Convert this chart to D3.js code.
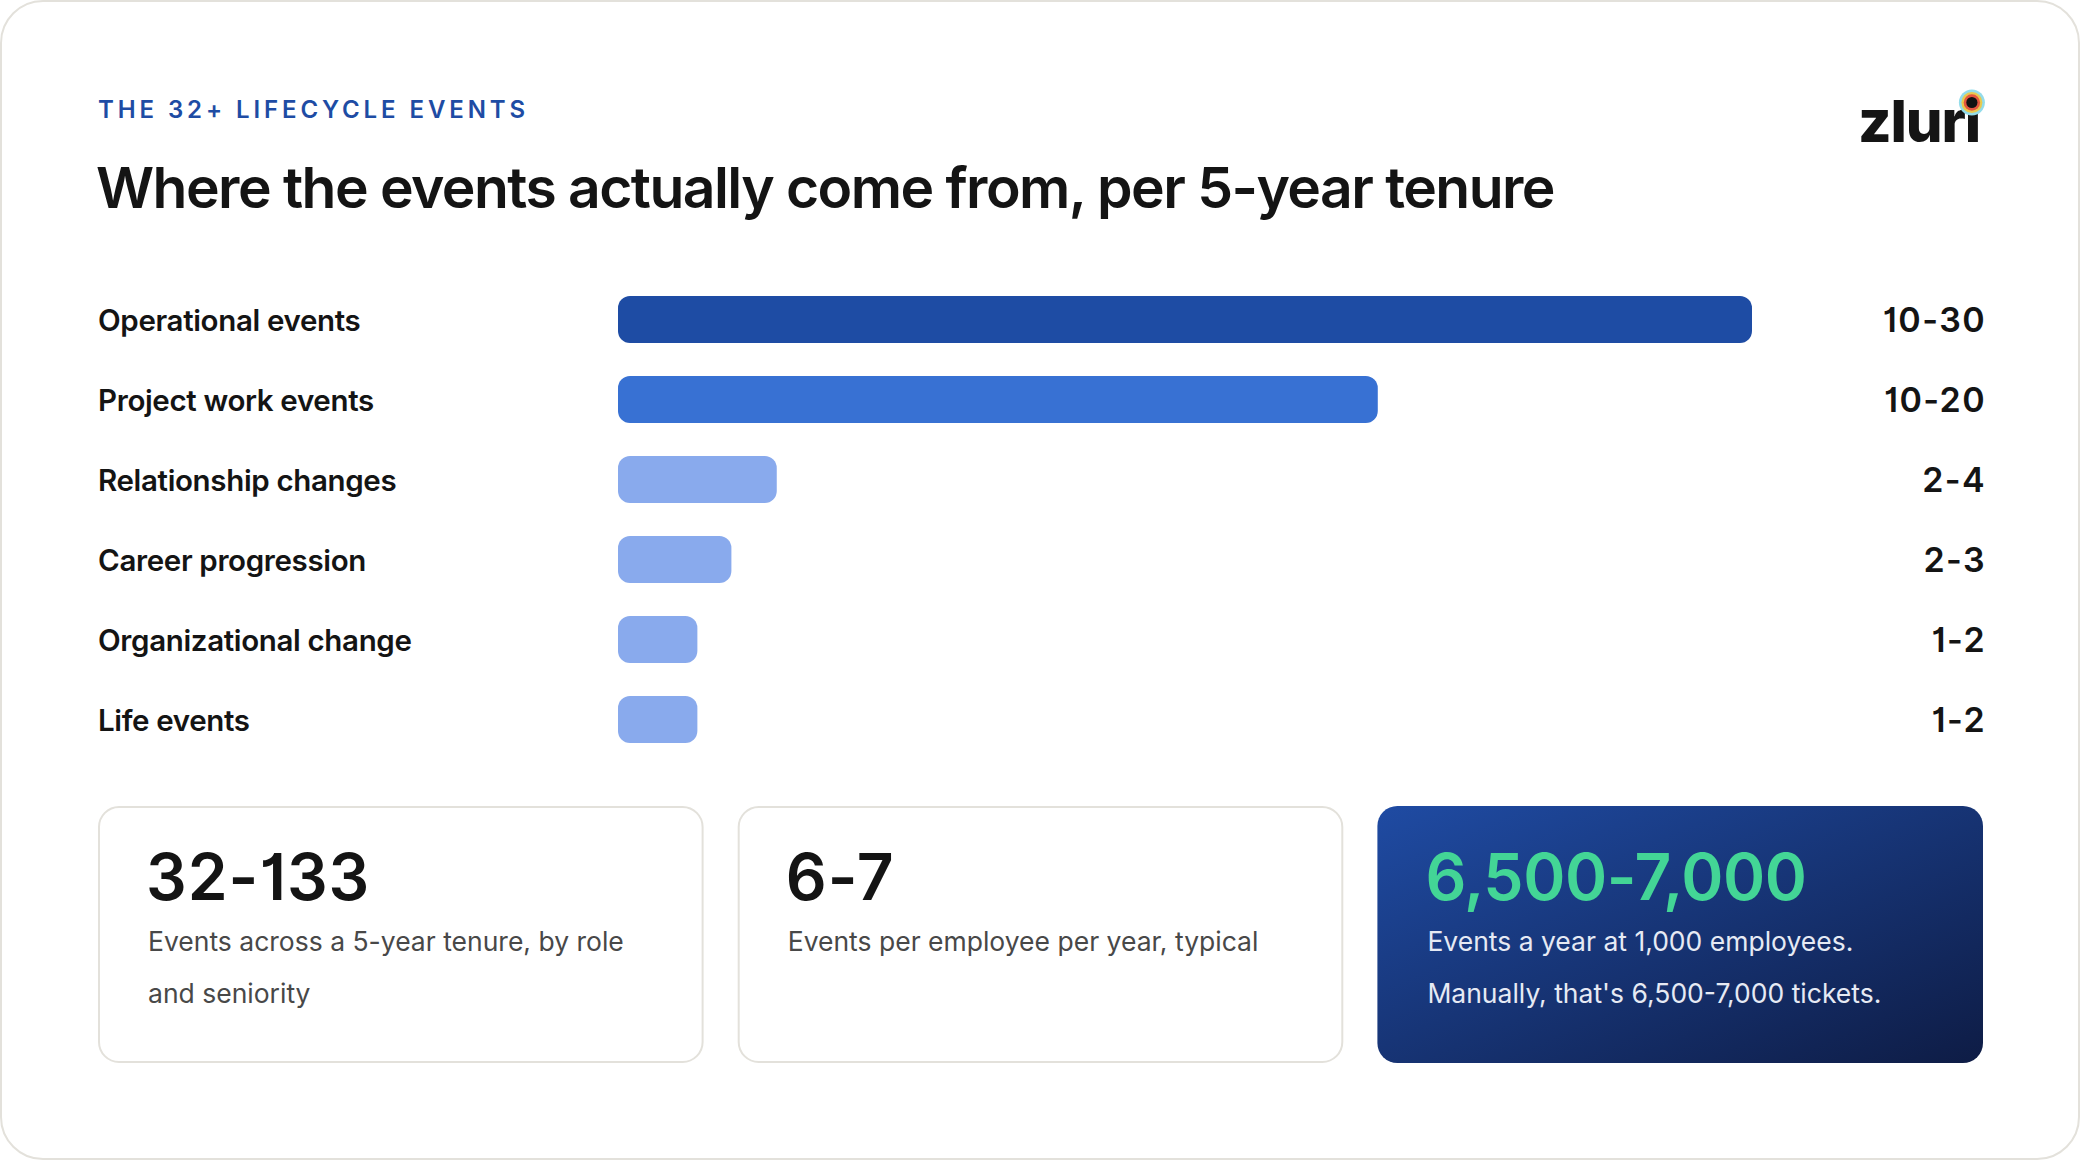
<!DOCTYPE html>
<html>
<head>
<meta charset="utf-8">
<script src="https://cdn.jsdelivr.net/npm/d3@7"></script>
<style>
  html, body { margin: 0; padding: 0; background: #ffffff; }
  svg { display: block; }
  text { font-family: Inter, "Noto Sans", sans-serif; }
</style>
</head>
<body>
<div id="chart"></div>
<script>
// ---- data ----
const kicker = "THE 32+ LIFECYCLE EVENTS";
const title = "Where the events actually come from, per 5-year tenure";

const categories = ["Operational events", "Project work events", "Relationship changes",
                    "Career progression", "Organizational change", "Life events"];
const ranges = ["10-30", "10-20", "2-4", "2-3", "1-2", "1-2"];
// bar length as a share of the longest bar, in percent
const barShare = [100, 67, 14, 10, 7, 7];
const barTier = ["high", "mid", "low", "low", "low", "low"];

const statValues = ["32-133", "6-7", "6,500-7,000"];
const statLines = [
    ["Events across a 5-year tenure, by role", "and seniority"],
    ["Events per employee per year, typical"],
    ["Events a year at 1,000 employees.", "Manually, that's 6,500-7,000 tickets."]
];
const statHighlight = [false, false, true];

// ---- layout ----
const width = 2080, height = 1160;
const left = 98, right = 1982;
const barX0 = 618, barX1 = 1752;

const svg = d3.select("#chart").append("svg")
    .attr("width", width)
    .attr("height", height)
    .attr("viewBox", [0, 0, width, height]);

const defs = svg.append("defs");
const grad = defs.append("linearGradient")
    .attr("id", "cardGrad")
    .attr("x1", "0%").attr("y1", "0%")
    .attr("x2", "100%").attr("y2", "100%");
grad.append("stop").attr("offset", "0%").attr("stop-color", "#1f4ba3");
grad.append("stop").attr("offset", "100%").attr("stop-color", "#0e1c45");

// outer frame
svg.append("rect")
    .attr("x", 1).attr("y", 1)
    .attr("width", width - 2).attr("height", height - 2)
    .attr("rx", 42)
    .attr("fill", "#ffffff")
    .attr("stroke", "#e3e1db")
    .attr("stroke-width", 2);

// header
svg.append("text")
    .attr("x", left).attr("y", 117.5)
    .attr("fill", "#1e4ca4")
    .attr("font-size", 24)
    .attr("font-weight", 600)
    .attr("letter-spacing", "3.9px")
    .text(kicker);

svg.append("text")
    .attr("x", left - 2).attr("y", 208)
    .attr("fill", "#141414")
    .attr("font-size", 57)
    .attr("font-weight", 600)
    .attr("letter-spacing", "-1.55px")
    .text(title);

// logo
const logo = svg.append("text")
    .attr("x", 1980).attr("y", 141.5)
    .attr("text-anchor", "end")
    .attr("fill", "#151515")
    .attr("font-size", 58)
    .attr("font-weight", 800)
    .attr("letter-spacing", "-1.2px")
    .text("zlur\u0131");
const iBox = logo.node().getExtentOfChar(4);
const dotX = iBox.x + iBox.width / 2 - 0.5, dotY = 102.5;
[[13, "#93dcea"], [10.5, "#e9c94e"], [8.2, "#e4563f"], [5.6, "#121212"]].forEach(([r, c]) => {
    svg.append("circle").attr("cx", dotX).attr("cy", dotY).attr("r", r).attr("fill", c);
});

// ---- bars ----
const x = d3.scaleLinear().domain([0, 100]).range([barX0, barX1]);
const y = d3.scaleBand().domain(categories).range([296, 743]).paddingInner(0.4125).paddingOuter(0);
const color = d3.scaleOrdinal().domain(["high", "mid", "low"]).range(["#1e4ca4", "#3871d3", "#89aaed"]);

const rows = categories.map((c, i) => ({ cat: c, range: ranges[i], share: barShare[i], tier: barTier[i] }));

const row = svg.append("g").selectAll("g")
    .data(rows)
    .join("g");

row.append("rect")
    .attr("x", x(0))
    .attr("y", d => y(d.cat))
    .attr("width", d => x(d.share) - x(0))
    .attr("height", y.bandwidth())
    .attr("rx", 12)
    .attr("fill", d => color(d.tier));

row.append("text")
    .attr("x", left)
    .attr("y", d => y(d.cat) + y.bandwidth() / 2 + 11)
    .attr("fill", "#141414")
    .attr("font-size", 29.5)
    .attr("font-weight", 600)
    .attr("letter-spacing", "-0.35px")
    .text(d => d.cat);

row.append("text")
    .attr("x", right + 4)
    .attr("y", d => y(d.cat) + y.bandwidth() / 2 + 12)
    .attr("text-anchor", "end")
    .attr("fill", "#141414")
    .attr("font-size", 34)
    .attr("font-weight", 600)
    .attr("letter-spacing", "1.4px")
    .style("font-feature-settings", "'cv01' 1")
    .text(d => d.range);

// ---- stat cards ----
const cx = d3.scaleBand().domain(d3.range(statValues.length)).range([left, right + 1]).paddingInner(0.0533);
const cardTop = 806, cardH = 257;

const stats = statValues.map((v, i) => ({ value: v, lines: statLines[i], hi: statHighlight[i] }));

const card = svg.append("g").selectAll("g")
    .data(stats)
    .join("g")
    .attr("transform", (d, i) => `translate(${cx(i)},${cardTop})`);

card.append("rect")
    .attr("x", d => d.hi ? 0 : 1)
    .attr("y", d => d.hi ? 0 : 1)
    .attr("width", d => d.hi ? cx.bandwidth() : cx.bandwidth() - 2)
    .attr("height", d => d.hi ? cardH : cardH - 2)
    .attr("rx", 20)
    .attr("fill", d => d.hi ? "url(#cardGrad)" : "#ffffff")
    .attr("stroke", d => d.hi ? "none" : "#e3e1db")
    .attr("stroke-width", 2);

card.append("text")
    .attr("x", 48)
    .attr("y", 94)
    .attr("fill", d => d.hi ? "#43d596" : "#141414")
    .attr("font-size", 64)
    .attr("font-weight", 600)
    .attr("letter-spacing", d => d.hi ? "-0.4px" : "1px")
    .style("font-feature-settings", "'cv01' 1")
    .text(d => d.value);

card.each(function (d) {
    d3.select(this).selectAll("text.line")
        .data(d.lines)
        .join("text")
        .attr("class", "line")
        .attr("x", 50)
        .attr("y", (l, j) => 145 + j * 52)
        .attr("fill", d.hi ? "#e6eaf4" : "#484848")
        .attr("font-size", 26.5)
        .attr("font-weight", 400)
        .text(l => l);
});
</script>
</body>
</html>
